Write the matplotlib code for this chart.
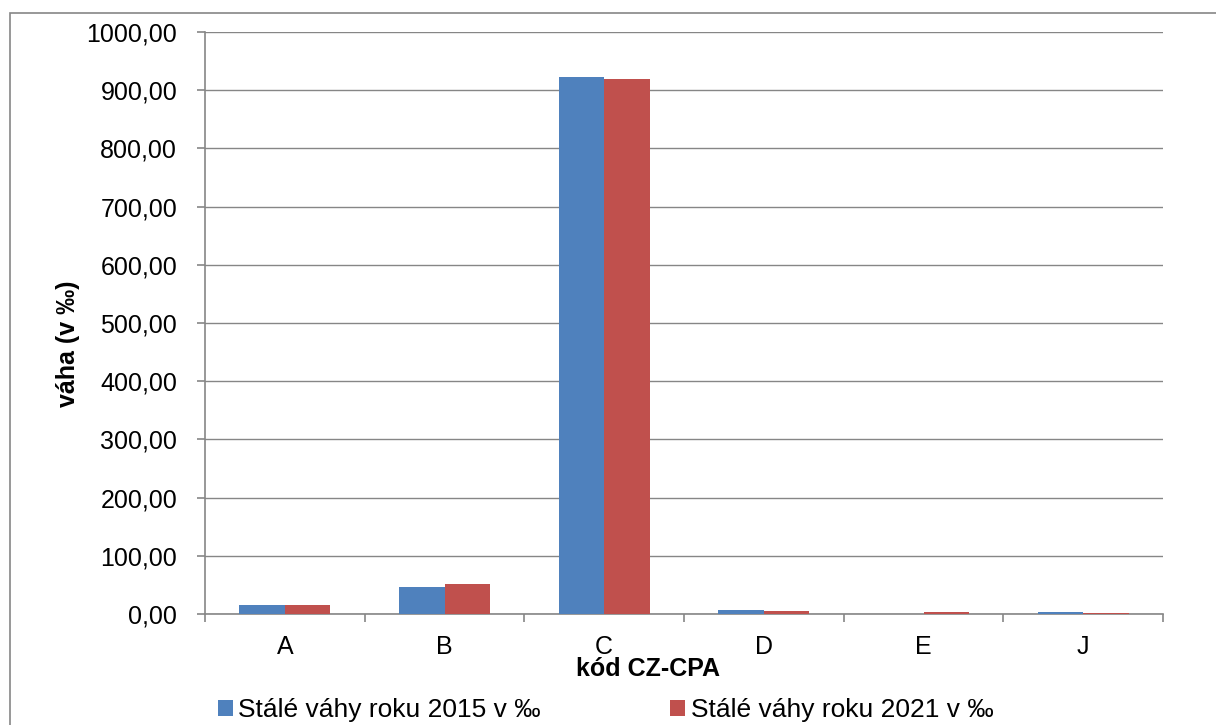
import matplotlib
matplotlib.use("Agg")
import matplotlib.pyplot as plt
import numpy as np
from matplotlib.patches import Rectangle
from matplotlib.ticker import FuncFormatter, FixedLocator

plt.rcParams['font.family'] = ['Liberation Sans', 'DejaVu Sans']

categories = ["A", "B", "C", "D", "E", "J"]
vahy_2015 = [15.5, 46.0, 922.5, 7.5, 0.3, 2.7]
vahy_2021 = [15.5, 52.0, 919.0, 5.0, 2.8, 1.7]
labels = ["Stálé váhy roku 2015 v ‰", "Stálé váhy roku 2021 v ‰"]
colors = ["#4F81BD", "#C0504D"]

fig = plt.figure(figsize=(12.16, 7.25), dpi=100)
ax = fig.add_axes([205/1216, 1 - 614/725, (1163-205)/1216, (614-32)/725])

x = np.arange(len(categories))
w = 0.285
b1 = ax.bar(x - w/2, vahy_2015, w, color=colors[0], label=labels[0], zorder=3)
b2 = ax.bar(x + w/2, vahy_2021, w, color=colors[1], label=labels[1], zorder=3)

ax.set_xlim(-0.5, len(categories) - 0.5)
ax.set_ylim(0, 1000)
ax.set_yticks(np.arange(0, 1001, 100))
ax.yaxis.set_major_formatter(FuncFormatter(lambda v, p: f"{v:.2f}".replace(".", ",")))
ax.grid(axis="y", color="#868686", linewidth=1, zorder=0)

ax.set_xticks(x)
ax.set_xticklabels(categories)
ax.xaxis.set_minor_locator(FixedLocator(np.arange(-0.5, len(categories), 1)))
ax.tick_params(axis="x", which="major", length=0, labelsize=18, pad=15)
ax.tick_params(axis="x", which="minor", length=6, color="#868686", width=1.2)
ax.tick_params(axis="y", length=6, color="#868686", width=1.2, labelsize=18, pad=14)

for s in ["top", "right"]:
    ax.spines[s].set_visible(False)
for s in ["left", "bottom"]:
    ax.spines[s].set_color("#868686")
    ax.spines[s].set_linewidth(1.2)

ax.set_xlabel("kód CZ-CPA", fontsize=18, fontweight="bold")
ax.xaxis.set_label_coords((648 - 205) / 958, (614 - 657) / 582)
ax.set_ylabel("váha (v ‰)", fontsize=18, fontweight="bold")
ax.yaxis.set_label_coords((80 - 205) / 958, (614 - 344) / 582)

fig.legend(handles=[b1, b2], labels=labels, loc="center left",
           bbox_to_anchor=(218/1216, 1 - 710/725), ncol=2, frameon=False,
           fontsize=19, handlelength=0.57, handleheight=0.57, handletextpad=0.2,
           columnspacing=4.9, borderpad=0, borderaxespad=0)

fig.patches.append(Rectangle((10/1216, -0.1), 1.2, 1.1 - 13/725, transform=fig.transFigure,
                             fill=False, edgecolor="#868686", linewidth=1.2))

fig.savefig("out.png", dpi=100)
